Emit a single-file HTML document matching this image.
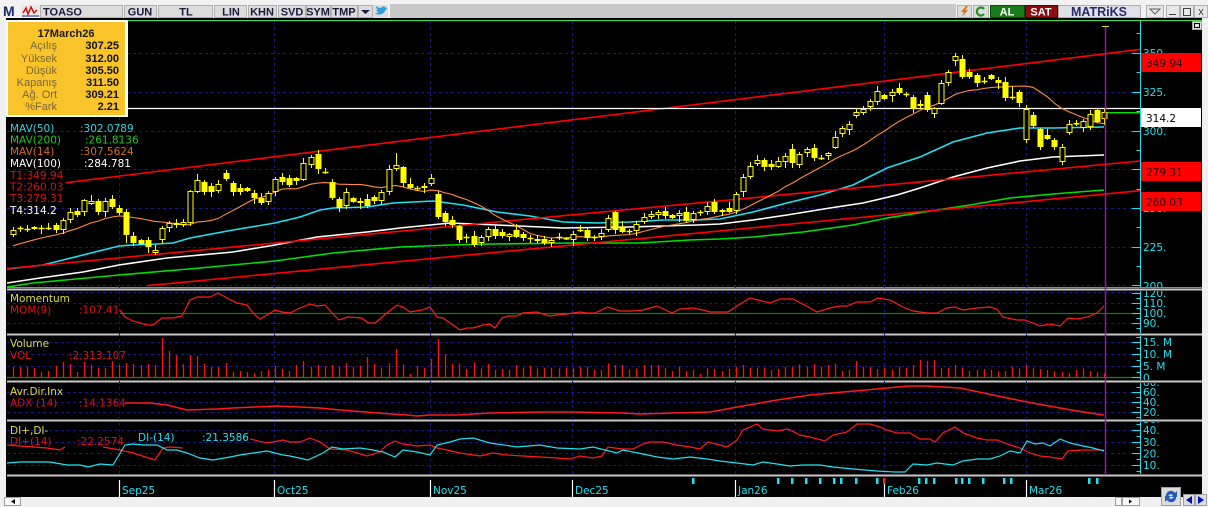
<!DOCTYPE html>
<html><head><meta charset="utf-8">
<style>
html,body{margin:0;padding:0;background:#f0f0f0;width:1208px;height:507px;overflow:hidden}
svg{display:block}
.v{font-family:"DejaVu Sans","Liberation Sans",sans-serif;font-size:10.5px}
.t{font-family:"Liberation Sans","DejaVu Sans",sans-serif;font-size:11px}
.b{font-family:"Liberation Sans","DejaVu Sans",sans-serif;font-size:11px;font-weight:bold}
</style></head><body>
<svg id="s" width="1208" height="507" viewBox="0 0 1208 507" xmlns="http://www.w3.org/2000/svg">
<defs>
<clipPath id="cMain"><rect x="7" y="21" width="1133" height="266"/></clipPath>
<clipPath id="cMom"><rect x="7" y="291" width="1133" height="42"/></clipPath>
<clipPath id="cVol"><rect x="7" y="336" width="1133" height="44"/></clipPath>
<clipPath id="cAdx"><rect x="7" y="383" width="1133" height="36"/></clipPath>
<clipPath id="cDi"><rect x="7" y="422" width="1133" height="52"/></clipPath>
<clipPath id="aMain"><rect x="1140" y="21" width="62" height="266"/></clipPath>
<clipPath id="aMom"><rect x="1140" y="291" width="62" height="42"/></clipPath>
<clipPath id="aVol"><rect x="1140" y="336" width="62" height="44"/></clipPath>
<clipPath id="aAdx"><rect x="1140" y="383" width="62" height="36"/></clipPath>
<clipPath id="aDi"><rect x="1140" y="422" width="62" height="52"/></clipPath>
</defs>

<!-- toolbar -->
<rect x="0" y="0" width="1208" height="18" fill="#f2f2f2"/>
<rect x="390" y="4" width="566" height="14" fill="#c8c8c8"/>
<text x="3" y="16" font-family="Liberation Sans" font-weight="bold" font-size="14" fill="#1a2a6a">M</text>
<rect x="21" y="5" width="19" height="12" fill="#e8e8e8"/>
<polyline points="23,13 26,8 28,14 31,7 34,13 37,10" fill="none" stroke="#d01010" stroke-width="1.5"/>
<line x1="22" y1="16" x2="39" y2="16" stroke="#2030a0" stroke-width="1"/>
<rect x="40.5" y="5.5" width="82" height="12" fill="#dcdcdc" stroke="#b0b0b0"/>
<text x="43" y="15.5" class="b" fill="#1a1a3a">TOASO</text>
<rect x="124.5" y="5.5" width="32" height="12" fill="#dcdcdc" stroke="#b0b0b0"/>
<text x="140" y="15.5" class="b" fill="#1a1a3a" text-anchor="middle">GUN</text>
<rect x="158.5" y="5.5" width="54" height="12" fill="#dcdcdc" stroke="#b0b0b0"/>
<text x="186" y="15.5" class="b" fill="#1a1a3a" text-anchor="middle">TL</text>
<rect x="214.5" y="5.5" width="32" height="12" fill="#dcdcdc" stroke="#b0b0b0"/>
<text x="231" y="15.5" class="b" fill="#1a1a3a" text-anchor="middle">LIN</text>
<rect x="248.5" y="5.5" width="28" height="12" fill="#dcdcdc" stroke="#b0b0b0"/>
<text x="262" y="15.5" class="b" fill="#1a1a3a" text-anchor="middle">KHN</text>
<rect x="278.5" y="5.5" width="27" height="12" fill="#dcdcdc" stroke="#b0b0b0"/>
<text x="292" y="15.5" class="b" fill="#1a1a3a" text-anchor="middle">SVD</text>
<rect x="306.5" y="5.5" width="24" height="12" fill="#dcdcdc" stroke="#b0b0b0"/>
<text x="318" y="15.5" class="b" fill="#1a1a3a" text-anchor="middle">SYM</text>
<rect x="331.5" y="5.5" width="26" height="12" fill="#dcdcdc" stroke="#b0b0b0"/>
<text x="344" y="15.5" class="b" fill="#1a1a3a" text-anchor="middle">TMP</text>
<rect x="358.5" y="5.5" width="14" height="12" fill="#dcdcdc" stroke="#b0b0b0"/>
<polygon points="361,10 370,10 365.5,14" fill="#1a1a3a"/>
<rect x="373" y="5" width="15" height="13" fill="#dcdcdc"/>
<path d="M375,13 C378,16 384,15 386,9 L388,8 L386,8 C385,6 382,6 381,8 C379,8 377,7 376,6 C376,8 377,9 378,10 C377,10 376,10 376,10 C377,12 378,12 379,12 C378,13 376,13 375,13 Z" fill="#2aa0e0"/>
<rect x="957.5" y="5.5" width="14" height="12" fill="#dcdcdc" stroke="#b0b0b0"/>
<polygon points="966,6 961,12 964,12 962,17 968,10 965,10 968,6" fill="#e07010"/>
<rect x="973.5" y="5.5" width="15" height="12" fill="#dcdcdc" stroke="#b0b0b0"/>
<path d="M984,9 A4,4 0 1 0 984,14" fill="none" stroke="#209020" stroke-width="2.2"/>
<rect x="990.5" y="5.5" width="34" height="12" fill="#1a7a1a" stroke="#0a4a0a"/>
<text x="1007" y="15.5" class="b" fill="#ffffff" text-anchor="middle">AL</text>
<rect x="1025.5" y="5.5" width="32" height="12" fill="#8a1010" stroke="#500000"/>
<text x="1041" y="15.5" class="b" fill="#ffffff" text-anchor="middle">SAT</text>
<rect x="1058.5" y="5.5" width="82" height="12" fill="#e0e0e8" stroke="#b0b0b0"/>
<text x="1099" y="16" font-family="Liberation Sans" font-weight="bold" font-size="12.5" fill="#2a2a6a" text-anchor="middle">MATRiKS</text>
<rect x="1146.5" y="5.5" width="17" height="12" fill="#e8e8e8" stroke="#b0b0b0"/>
<polygon points="1150,9 1160,9 1155,14" fill="none" stroke="#606060"/>
<rect x="1166.5" y="5.5" width="13" height="12" fill="#e8e8e8" stroke="#b0b0b0"/>
<line x1="1169" y1="14.5" x2="1176" y2="14.5" stroke="#404040"/>
<rect x="1180.5" y="5.5" width="13" height="12" fill="#e8e8e8" stroke="#b0b0b0"/>
<rect x="1183.5" y="8.5" width="7" height="7" fill="none" stroke="#404040"/>
<rect x="1194.5" y="5.5" width="13" height="12" fill="#e8e8e8" stroke="#b0b0b0"/>
<text x="1201" y="15" font-family="Liberation Sans" font-size="11" fill="#404040" text-anchor="middle">x</text>

<!-- chart background -->
<rect x="6" y="18" width="1196" height="479" fill="#000"/>
<line x1="7" y1="20.5" x2="1202" y2="20.5" stroke="#40e040" stroke-width="1"/>
<line x1="7" y1="287.5" x2="1202" y2="287.5" stroke="#40c040" stroke-width="1"/>
<rect x="7" y="288.5" width="1195" height="2" fill="#c8c8c8"/>
<rect x="7" y="333.5" width="1195" height="2" fill="#c8c8c8"/>
<rect x="7" y="380.5" width="1195" height="2" fill="#c8c8c8"/>
<rect x="7" y="419.5" width="1195" height="2" fill="#c8c8c8"/>
<rect x="7" y="474.5" width="1195" height="2" fill="#c8c8c8"/>

<!-- grids -->
<g stroke="#1414a0" stroke-width="1" stroke-dasharray="3,3">
 <g clip-path="url(#cMain)">
  <line x1="7" x2="1140" y1="53.5" y2="53.5"/><line x1="7" x2="1140" y1="92.5" y2="92.5"/>
  <line x1="7" x2="1140" y1="131.5" y2="131.5"/><line x1="7" x2="1140" y1="169.5" y2="169.5"/>
  <line x1="7" x2="1140" y1="208.5" y2="208.5"/><line x1="7" x2="1140" y1="247.5" y2="247.5"/>
  <line x1="7" x2="1140" y1="285.5" y2="285.5"/>
 </g>
 <line x1="7" x2="1140" y1="292.5" y2="292.5"/><line x1="7" x2="1140" y1="303.5" y2="303.5"/><line x1="7" x2="1140" y1="323.5" y2="323.5"/>
 <line x1="7" x2="1140" y1="342.5" y2="342.5"/><line x1="7" x2="1140" y1="354.5" y2="354.5"/><line x1="7" x2="1140" y1="366.5" y2="366.5"/>
 <line x1="7" x2="1140" y1="392.5" y2="392.5"/><line x1="7" x2="1140" y1="402.5" y2="402.5"/><line x1="7" x2="1140" y1="412.5" y2="412.5"/>
 <line x1="7" x2="1140" y1="430.5" y2="430.5"/><line x1="7" x2="1140" y1="442.5" y2="442.5"/><line x1="7" x2="1140" y1="453.5" y2="453.5"/><line x1="7" x2="1140" y1="465.5" y2="465.5"/>
 <g id="vgrid"></g>
</g>

<!-- main panel -->
<g clip-path="url(#cMain)" fill="none">
 <polyline stroke="#00e000" stroke-width="1.6" points="7,287 33,283 119,275 200,268 275,261 333,253 400,247 450,245 490,244 573,243 640,243 690,240 720,239 753,237 803,232 853,225 887,218 937,210 970,205 1010,198 1053,194 1104,190"/>
 <polyline stroke="#ffffff" stroke-width="1.6" points="7,283 40,278 83,272 119,265 167,258 233,252 275,245 317,237 367,232 400,228 450,223 497,225 563,228 630,227 697,225 720,224 753,220 787,215 830,208 863,203 897,195 920,188 953,177 987,168 1020,161 1053,157 1104,155"/>
 <polyline stroke="#20e0f0" stroke-width="1.6" points="7,269 43,265 83,255 119,246 133,245 157,244 173,243 190,238 233,230 275,223 300,217 320,210 333,208 367,207 393,203 433,201 463,205 497,212 530,216 563,222 597,223 630,222 663,220 697,220 720,219 753,212 787,203 820,195 853,185 887,168 920,157 953,142 987,133 1020,128 1053,128 1104,127"/>
 <line x1="66" y1="182.7" x2="1140" y2="49.4" stroke="#ff0000" stroke-width="1.6"/>
 <line x1="7" y1="268.5" x2="1140" y2="161" stroke="#ff0000" stroke-width="1.6"/>
 <line x1="147" y1="285.7" x2="1140" y2="190.7" stroke="#ff0000" stroke-width="1.6"/>
 <line x1="7" y1="108.5" x2="1140" y2="108.5" stroke="#ffffff" stroke-width="1.3"/>
 <line x1="1105" y1="112.7" x2="1140" y2="112.7" stroke="#00e000" stroke-width="1.3"/>
 <polyline id="ma14" stroke="#ff8a40" stroke-width="1.1" points=""/>
 <g id="candles"></g>
</g>

<!-- momentum -->
<g clip-path="url(#cMom)" fill="none">
 <line x1="120" y1="313.5" x2="1140" y2="313.5" stroke="#008800" stroke-width="1.3"/>
 <polyline stroke="#ff1a1a" stroke-width="1.2" points="120,310 125,317 133,321 147,325 153,325 162,318 173,318 182,316 190,300 197,297 210,297 218,293 227,298 237,303 247,305 253,313 260,319 267,315 275,310 282,312 290,313 300,308 310,304 317,306 325,305 332,313 339,320 348,317 362,318 368,323 375,323 387,313 397,305 403,307 410,312 422,310 430,307 437,317 443,318 450,323 460,330 467,328 473,328 483,325 490,324 495,328 502,318 508,316 517,316 523,313 537,312 543,314 550,316 557,315 567,314 573,313 580,312 587,313 595,313 608,307 620,311 633,311 643,310 657,306 672,313 680,309 693,308 703,310 710,312 728,312 737,306 750,298 770,303 780,299 793,299 810,308 817,312 830,308 840,306 847,306 857,302 870,302 878,298 890,300 903,307 913,311 927,313 937,313 947,308 955,307 963,310 977,308 990,307 997,309 1003,317 1017,320 1025,320 1040,326 1050,324 1060,326 1068,318 1077,319 1087,317 1097,313 1104,306"/>
</g>

<!-- volume -->
<g clip-path="url(#cVol)">
 <line x1="7" y1="377.5" x2="1140" y2="377.5" stroke="#009000" stroke-width="1.3"/>
 <g id="vol" stroke="#ff1010" stroke-width="1.3"></g>
</g>

<!-- adx -->
<g clip-path="url(#cAdx)" fill="none">
 <polyline stroke="#ff1a1a" stroke-width="1.5" points="125,403 150,403 167,405 187,410 217,409 233,408 277,406 300,407 320,408 340,410 378,413 407,415 417,416 430,415 457,415 490,413 540,412 573,412 623,413 640,414 673,413 710,412 743,406 777,400 810,395 843,392 877,389 897,387 910,386 927,386 960,388 993,395 1027,402 1060,408 1083,412 1104,415"/>
</g>

<!-- DI -->
<g clip-path="url(#cDi)" fill="none">
 <polyline stroke="#ff1a1a" stroke-width="1.2" points="7,445 20,446 33,447 47,448 60,450 65,447"/>
 <polyline stroke="#ff1a1a" stroke-width="1.2" points="103,447 120,450 133,453 155,460 163,448 170,447 183,448"/>
 <polyline stroke="#ff1a1a" stroke-width="1.2" points="250,439 267,443 283,440 290,442 300,442 310,438 320,442 330,449 347,450 367,456 380,452 387,445 395,441 403,444 417,446 430,445 437,448 447,450 460,453 480,456 493,453 507,455 523,456 540,457 557,458 570,459 580,456 593,458 602,456 608,447 615,448 623,449 633,449 643,444 650,442 663,442 677,445 690,447 700,449 708,442 720,445 727,447 737,440 743,430 757,424 763,429 777,431 788,429 800,435 810,437 825,441 833,435 847,432 857,424 870,424 880,427 887,430 897,433 910,433 920,439 930,439 935,442 943,433 955,427 963,433 977,438 987,440 997,440 1010,445 1020,448 1030,453 1040,456 1050,457 1062,459 1068,451 1083,450 1104,450"/>
 <polyline stroke="#20e0f0" stroke-width="1.2" points="7,463 20,462 33,462 50,462 67,465 80,465 88,467 100,464 113,465 125,445 133,444 143,445 157,445 167,450 177,450 187,453 200,458 213,460 230,457 240,455 253,453 267,451 283,455 290,456 308,460 323,453 332,447 343,449 360,448 373,450 383,452 395,457 403,450 417,452 430,455 437,445 450,442 460,439 473,438 490,443 517,447 540,445 557,448 580,449 593,447 605,450 617,453 623,450 643,454 657,457 673,459 690,457 707,459 720,461 737,463 753,465 763,462 777,464 790,466 803,465 820,465 833,467 853,469 877,471 895,472 905,472 913,464 927,465 937,463 953,465 963,461 977,459 990,459 1000,456 1010,451 1020,453 1027,441 1035,444 1043,443 1050,446 1060,439 1070,443 1083,446 1093,448 1104,451"/>
</g>

<!-- axis lines and ticks -->
<g stroke="#20e0f0" stroke-width="1">
 <line x1="1140.5" y1="21" x2="1140.5" y2="287"/>
 <line x1="1140.5" y1="291" x2="1140.5" y2="333"/>
 <line x1="1140.5" y1="336" x2="1140.5" y2="380"/>
 <line x1="1140.5" y1="383" x2="1140.5" y2="419"/>
 <line x1="1140.5" y1="422" x2="1140.5" y2="474"/>
 <g id="ticks"></g>
</g>

<!-- axis labels -->
<g class="v" fill="#20e0f0">
 <g clip-path="url(#aMain)">
  <text x="1143" y="57">350.</text><text x="1143" y="96">325.</text><text x="1143" y="135">300.</text>
  <text x="1143" y="173">275.</text><text x="1143" y="212">250.</text><text x="1143" y="251">225.</text><text x="1143" y="290">200.</text>
 </g>
 <g clip-path="url(#aMom)">
  <text x="1143" y="297">120.</text><text x="1143" y="307">110.</text><text x="1143" y="317">100.</text><text x="1143" y="327">90.</text>
 </g>
 <g clip-path="url(#aVol)">
  <text x="1143" y="346">15. M</text><text x="1143" y="358">10. M</text><text x="1143" y="370">5. M</text><text x="1143" y="381.5">0</text>
 </g>
 <g clip-path="url(#aAdx)">
  <text x="1143" y="386">80.</text><text x="1143" y="396">60.</text><text x="1143" y="406">40.</text><text x="1143" y="416">20.</text>
 </g>
 <g clip-path="url(#aDi)">
  <text x="1143" y="423">50.</text><text x="1143" y="434">40.</text><text x="1143" y="446">30.</text><text x="1143" y="457.5">20.</text><text x="1143" y="469">10.</text>
 </g>
</g>

<!-- right value boxes -->
<rect x="1141" y="53" width="60" height="19" fill="#ff0000"/>
<text x="1146" y="67" class="v" font-size="11" fill="#300000">349.94</text>
<rect x="1141" y="108" width="60" height="19" fill="#ffffff"/>
<text x="1146" y="122" class="v" font-size="11" fill="#000">314.2</text>
<rect x="1141" y="162" width="60" height="19" fill="#ff0000"/>
<text x="1146" y="176" class="v" font-size="11" fill="#300000">279.31</text>
<rect x="1141" y="192" width="60" height="19" fill="#ff0000"/>
<text x="1146" y="206" class="v" font-size="11" fill="#300000">260.03</text>

<!-- purple cursor -->
<line x1="1105.5" y1="26" x2="1105.5" y2="475" stroke="#9a14a8" stroke-width="1.5"/>
<line x1="1102" y1="26.5" x2="1109" y2="26.5" stroke="#c8e030" stroke-width="1"/>

<!-- top-right small button -->
<rect x="1192.5" y="21.5" width="9" height="8" fill="#e0e0e0" stroke="#a0a0a0"/>
<rect x="1194.5" y="23.5" width="5" height="4" fill="none" stroke="#000"/>

<!-- legends -->
<g class="v">
 <text x="10" y="132" fill="#30d4e4">MAV(50)</text><text x="80" y="132" fill="#30d4e4">:302.0789</text>
 <text x="10" y="143.5" fill="#22c822">MAV(200)</text><text x="85" y="143.5" fill="#22c822">:261.8136</text>
 <text x="10" y="155" fill="#d8682a">MAV(14)</text><text x="80" y="155" fill="#d8682a">:307.5624</text>
 <text x="10" y="167" fill="#ffffff">MAV(100)</text><text x="84" y="167" fill="#ffffff">:284.781</text>
 <text x="10" y="179" fill="#d81010">T1:349.94</text>
 <text x="10" y="190.5" fill="#d81010">T2:260.03</text>
 <text x="10" y="202" fill="#d81010">T3:279.31</text>
 <text x="10" y="214" fill="#ffffff">T4:314.2</text>

 <text x="10" y="302" fill="#dede40">Momentum</text>
 <text x="10" y="313.5" fill="#e01010">MOM(9)</text><text x="79" y="313.5" fill="#e01010">:107.41</text>
 <text x="10" y="347" fill="#dede40">Volume</text>
 <text x="10" y="359" fill="#e01010">VOL</text><text x="69" y="359" fill="#e01010">:2,313,107</text>
 <text x="10" y="395" fill="#dede40">Avr.Dir.Inx</text>
 <text x="10" y="406.5" fill="#e01010">ADX (14)</text><text x="79" y="406.5" fill="#e01010">:14.1364</text>
 <text x="10" y="434" fill="#dede40">DI+,DI-</text>
 <text x="10" y="445" fill="#e01010">DI+(14)</text><text x="77" y="445" fill="#e01010">:22.2574</text>
 <text x="138" y="441" fill="#20e0f0">DI-(14)</text><text x="202" y="441" fill="#20e0f0">:21.3586</text>
</g>

<!-- info box -->
<rect x="6" y="20" width="122" height="97" fill="#ffffff"/>
<rect x="8" y="22" width="117" height="93" fill="#f9c42a"/>
<text x="66" y="37" class="b" fill="#1a1a1a" text-anchor="middle">17March26</text>
<g class="t" fill="#7a6535" text-anchor="end">
 <text x="57" y="49">Açılış</text><text x="57" y="62">Yüksek</text><text x="57" y="74">Düşük</text>
 <text x="57" y="86">Kapanış</text><text x="57" y="98">Ağ. Ort</text><text x="57" y="110">%Fark</text>
</g>
<g class="b" fill="#111" text-anchor="end">
 <text x="119" y="49">307.25</text><text x="119" y="62">312.00</text><text x="119" y="74">305.50</text>
 <text x="119" y="86">311.50</text><text x="119" y="98">309.21</text><text x="119" y="110">2.21</text>
</g>

<!-- date axis -->
<g stroke="#ffffff" stroke-width="1.2">
 <line x1="119.5" y1="480" x2="119.5" y2="497"/><line x1="274.5" y1="480" x2="274.5" y2="497"/>
 <line x1="430.5" y1="480" x2="430.5" y2="497"/><line x1="572.5" y1="480" x2="572.5" y2="497"/>
 <line x1="735.5" y1="480" x2="735.5" y2="497"/><line x1="884.5" y1="480" x2="884.5" y2="497"/>
 <line x1="1026.5" y1="480" x2="1026.5" y2="497"/>
</g>
<g class="v" fill="#20e0f0">
 <text x="122" y="494">Sep25</text><text x="277" y="494">Oct25</text><text x="433" y="494">Nov25</text>
 <text x="575" y="494">Dec25</text><text x="738" y="494">Jan26</text><text x="887" y="494">Feb26</text><text x="1029" y="494">Mar26</text>
</g>
<g id="marks" fill="#20e0f0"></g>
<rect x="883" y="478" width="2.5" height="6" fill="#ff2020"/>

<!-- bottom strip -->
<rect x="0" y="497" width="1208" height="10" fill="#f0f0f0"/>
<rect x="4.5" y="497.5" width="16" height="8" fill="#f8f8f8" stroke="#a0a0a0"/>
<polygon points="15,499 15,504 11,501.5" fill="#000"/>
<rect x="1115.5" y="497.5" width="6" height="8" fill="#f8f8f8" stroke="#a0a0a0"/>
<rect x="1122.5" y="497.5" width="17" height="8" fill="#f8f8f8" stroke="#a0a0a0"/>
<polygon points="1129,499.5 1129,503.5 1132,501.5" fill="#000"/>
<rect x="1161.5" y="487.5" width="19" height="18" fill="#dcdcdc" stroke="#a0a0a0"/>
<path d="M1166,497 A5,5 0 0 1 1175,493 L1177,491 L1177,497 L1171,497 L1173,495 A3,3 0 0 0 1168,497 Z" fill="#2a5ab8"/>
<path d="M1176,496 A5,5 0 0 1 1167,500 L1165,502 L1165,496 L1171,496 L1169,498 A3,3 0 0 0 1174,496 Z" fill="#2a5ab8"/>
<rect x="1183.5" y="494.5" width="11" height="11" fill="#dcdcdc" stroke="#a0a0a0"/>
<polygon points="1192,496 1192,504 1186,500" fill="#0010c0"/>
<rect x="1195.5" y="494.5" width="11" height="11" fill="#dcdcdc" stroke="#a0a0a0"/>
<polygon points="1198,496 1198,504 1204,500" fill="#0010c0"/>
</svg>
<script>
(function(){
var NS='http://www.w3.org/2000/svg';
function el(tag,a,p){var e=document.createElementNS(NS,tag);for(var k in a)e.setAttribute(k,a[k]);p.appendChild(e);return e;}
var vg=document.getElementById('vgrid');
[119.5,274.5,430.5,572.5,735.5,884.5,1026.5].forEach(function(x){el('line',{x1:x,x2:x,y1:21,y2:474},vg);});
var D=[['h',230,235],['c',228],['c',229],['h',227,229],['c',228],['c',228],['f',225,230],['h',220,230],['h',212,220],['f',211,215],
['h',200,212],['h',201,204],['f',201,212],['h',201,212],['f',199,207],['f',208,213],['f',212,235],['f',236,243],['f',240,244],['f',240,247],
['h',250,253],['h',228,240],['h',223,228],['f',223,225],['h',222,225],['h',191,223],['h',180,192],['f',182,192],['f',186,192],['h',184,191],
['f',173,179],['f',183,192],['f',188,192],['f',188,191],['f',193,198],['f',198,203],['h',193,202],['h',179,192],['f',177,182],['f',178,185],
['f',178,181],['h',163,180],['h',157,165],['f',154,169],['c',172],['f',182,198],['f',199,208],['h',192,206],['f',198,202],['h',201,203],
['f',199,206],['f',197,201],['h',192,201],['h',169,192],['h',165,169],['f',167,183],['f',184,188],['c',188],['f',186,188],['h',178,184],
['f',194,217],['f',213,222],['f',220,225],['f',226,240],['c',237],['f',236,245],['h',237,243],['h',229,237],['f',229,236],['f',232,236],
['h',234,237],['f',230,237],['f',234,238],['c',238],['f',239,241],['f',239,243],['h',240,243],['c',237],['f',238,239],['h',234,240],
['c',230],['f',230,238],['c',237],['h',233,237],['h',218,230],['f',212,230],['f',227,232],['c',231],['h',224,231],['h',217,222],
['h',214,217],['h',212,215],['f',211,216],['f',215,218],['h',213,216],['f',212,221],['h',213,220],['c',212],['h',206,212],['f',202,212],
['h',210,212],['f',208,212],['h',194,211],['h',177,192],['h',166,177],['h',160,164],['f',160,167],['f',164,167],['h',161,167],['h',156,162],
['f',149,163],['h',154,165],['h',149,153],['f',148,158],['c',158],['h',153,156],['h',137,148],['h',128,134],['h',124,130],['h',112,116],
['h',109,113],['h',101,107],['h',91,102],['f',95,99],['h',92,96],['f',88,93],['c',94],['f',97,109],['h',104,106],['f',95,110],
['h',108,114],['h',83,104],['h',72,83],['h',56,61],['f',59,77],['f',72,77],['f',75,83],['c',81],['f',75,79],['f',80,83],
['f',82,98],['c',97],['f',92,103],['h',109,140],['f',115,126],['f',129,147],['f',135,139],['f',140,147],['h',147,162],['h',124,133],
['f',123,124],['h',121,128],['h',114,127],['f',110,122],['h',112,119]];
var W=[3,2,4,1,3,5,2,2,4,3,1,6,2,3,4];
var oH={54:153,133:53,43:150,41:158,122:86,131:80,105:155,108:157,141:86,16:209,110:144,143:105,148:144};
var oL={16:243,60:219,110:168,145:150,148:165,140:101,63:243,25:226,102:214};
var g=document.getElementById('candles');
var Y='#ffff00';
function X(i){return 13+7.085*i;}
D.forEach(function(d,i){
 var xc=Math.round(X(i))+0.5, t=d[0], top=d[1], bot=d.length>2?d[2]:d[1];
 var hi=(oH[i]!==undefined)?oH[i]:top-W[i%15];
 var lo=(oL[i]!==undefined)?oL[i]:bot+W[(i+7)%15];
 el('line',{x1:xc,x2:xc,y1:hi,y2:lo,stroke:Y,'stroke-width':1},g);
 if(t==='c'){el('line',{x1:xc-3,x2:xc+3,y1:top+0.5,y2:top+0.5,stroke:Y,'stroke-width':1.5},g);}
 else if(t==='f'){el('rect',{x:xc-3,y:top,width:6,height:Math.max(bot-top,1.5),fill:Y},g);}
 else{el('rect',{x:xc-2.5,y:top+0.5,width:5,height:Math.max(bot-top-1,1),fill:'#000',stroke:Y,'stroke-width':1},g);}
});
var pad=[];for(var k=0;k<13;k++)pad.push(258-22*k/12);
var cl=D.map(function(d){return d[0]==='f'?d[2]:d[1];});
var all=pad.concat(cl), pts=[];
for(var i=0;i<cl.length;i++){var s=0;for(var j=0;j<14;j++)s+=all[i+j];pts.push(X(i).toFixed(1)+','+(s/14).toFixed(1));}
document.getElementById('ma14').setAttribute('points',pts.join(' '));
var V1=[367,367,367,368,372,371,366,362,364,372,362,365,368,368,361,365,363,364,365,364,365,338,351,355,364,355,356,364,367,367,363,372,371,372,373,371,370,366,369,371,365];
var V2=[228,245,240,243,240,245,235,245,243,216,237,248,235,192,238,267,243,248,222,162,207,237,235,252,232,250,237,255,252,255,240,248,243,250,248,248,250,248,248,245,245,255,255,235,240,240,255,250,240,240,240,248,258,245,258,255,267,250,252];
var V3=[258,252,245,240,248,248,248,255,252,245,245,238,245,237,245,240,235,258,255,228,245,245,252,248,255,245,248,240,225,228,225,248,248,240,248,258,255,252,255,258,258,245,250,240,248,252,255,258,260,265,255,250,258,262,265];
var V=V1.concat(V2.map(function(z){return 285+z/3;}),V3.map(function(z){return 285+z/3;}));
var vg2=document.getElementById('vol');
for(var i=0;i<155&&i<V.length;i++){var xc=Math.round(X(i))+0.5;el('line',{x1:xc,x2:xc,y1:V[i],y2:377},vg2);}
var tk=document.getElementById('ticks');
function tick(y,long){el('line',{x1:long?1132:1136.5,x2:1140,y1:y,y2:y},tk);}
[33.5,72.5,111.5,150.5,189.5,227.5,266.5].forEach(function(y){tick(y,false);});
[53.5,92.5,131.5,169.5,208.5,247.5,285.5].forEach(function(y){tick(y,true);});
[293.5,303.5,313.5,323.5].forEach(function(y){tick(y,true);});[298.5,308.5,318.5,328.5].forEach(function(y){tick(y,false);});
[342.5,354.5,366.5,377.5].forEach(function(y){tick(y,true);});[337.5,348.5,360.5,372.5].forEach(function(y){tick(y,false);});
[392.5,402.5,412.5].forEach(function(y){tick(y,true);});[387.5,397.5,407.5,417.5].forEach(function(y){tick(y,false);});
[430.5,442.5,453.5,465.5].forEach(function(y){tick(y,true);});[424.5,436.5,447.5,459.5,471.5].forEach(function(y){tick(y,false);});
var mk=document.getElementById('marks');
[693,778,792,806,820,834,841,856,877,919,926,934,956,962,969,983,1004,1011,1089,1097].forEach(function(x){el('rect',{x:x-1,y:478,width:2.5,height:6},mk);});
})();
</script>
</body></html>
